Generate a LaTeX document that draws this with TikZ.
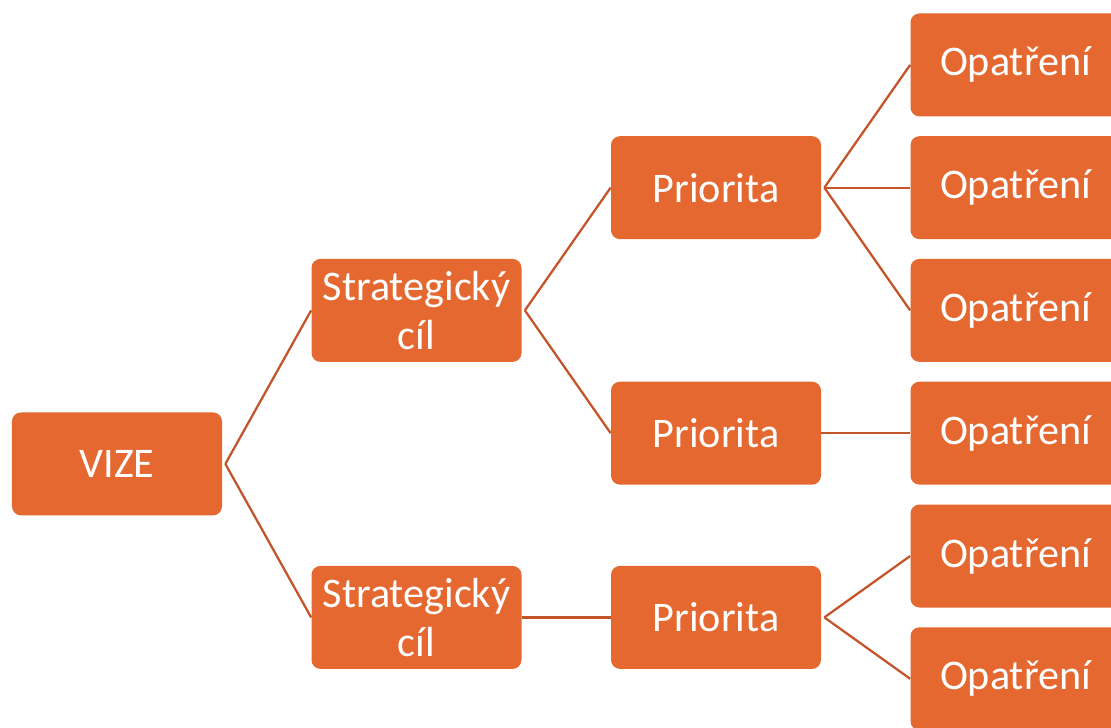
\documentclass[tikz,border=0pt]{standalone}
\usepackage{fontspec}
\setmainfont{Carlito}
\usepackage{xcolor}
\usepackage{tikz}
\definecolor{boxorange}{HTML}{E4682F}
\definecolor{linkorange}{HTML}{C4552A}
\tikzstyle{treebox} = [rectangle, rounded corners=0.18cm, minimum width=4.2cm, minimum height=2.06cm, inner sep=0pt, align=center, text=white, fill=boxorange, font=\fontsize{24}{27.5}\selectfont]
\tikzstyle{link} = [draw=linkorange, line width=1.3pt]
\begin{document}
\begin{tikzpicture}[node distance=5.99cm]
	\useasboundingbox (-2.34,-5.262) rectangle (19.88,9.278);
	\clip (-2.34,-5.262) rectangle (19.88,9.278);

	\node (vize) [treebox] {VIZE};
	\node (cil1) [treebox, right of=vize, yshift=3.07cm] {Strategický\\cíl};
	\node (cil2) [treebox, right of=vize, yshift=-3.07cm] {Strategický\\cíl};
	\node (prio1) [treebox, right of=cil1, yshift=2.455cm] {Priorita};
	\node (prio2) [treebox, right of=cil1, yshift=-2.455cm] {Priorita};
	\node (prio3) [treebox, right of=cil2] {Priorita};
	\node (opat1) [treebox, right of=prio1, yshift=2.455cm] {Opatření};
	\node (opat2) [treebox, right of=prio1] {Opatření};
	\node (opat3) [treebox, right of=prio1, yshift=-2.455cm] {Opatření};
	\node (opat4) [treebox, right of=prio2] {Opatření};
	\node (opat5) [treebox, right of=prio3, yshift=1.2275cm] {Opatření};
	\node (opat6) [treebox, right of=prio3, yshift=-1.2275cm] {Opatření};

	\draw [link] ([xshift=0.06cm]vize.east) -- (cil1.west);
	\draw [link] ([xshift=0.06cm]vize.east) -- (cil2.west);
	\draw [link] ([xshift=0.06cm]cil1.east) -- (prio1.west);
	\draw [link] ([xshift=0.06cm]cil1.east) -- (prio2.west);
	\draw [link] (cil2.east) -- (prio3.west);
	\draw [link] ([xshift=0.06cm]prio1.east) -- (opat1.west);
	\draw [link] ([xshift=0.06cm]prio1.east) -- (opat2.west);
	\draw [link] ([xshift=0.06cm]prio1.east) -- (opat3.west);
	\draw [link] (prio2.east) -- (opat4.west);
	\draw [link] ([xshift=0.06cm]prio3.east) -- (opat5.west);
	\draw [link] ([xshift=0.06cm]prio3.east) -- (opat6.west);
\end{tikzpicture}
\end{document}
